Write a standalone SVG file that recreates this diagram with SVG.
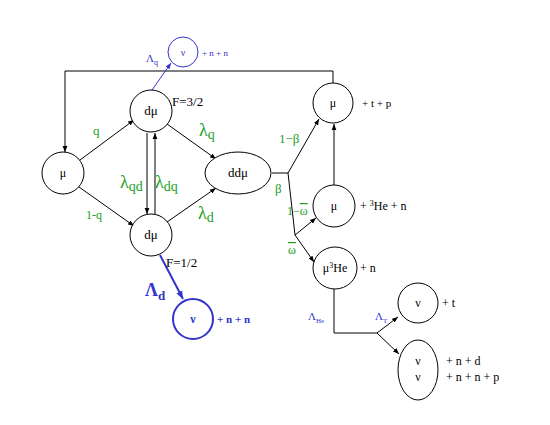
<svg xmlns="http://www.w3.org/2000/svg" width="550" height="425" viewBox="0 0 550 425" font-size="12">
<style>
text{font-family:"Liberation Serif","Times New Roman",serif;fill:#000}
.n{fill:#fff;stroke:#000;stroke-width:1}
.b{fill:#fff;stroke:#3333cc;stroke-width:1}
.bb{fill:#fff;stroke:#3333cc;stroke-width:2}
.c{fill:none;stroke:#000;stroke-width:1}
.cb{fill:none;stroke:#3333cc;stroke-width:1}
.cbb{fill:none;stroke:#3333cc;stroke-width:2}
.g{fill:#1a9e1a}
.bt{fill:#3333cc}
.m{text-anchor:middle}
</style>
<defs>
<marker id="a" viewBox="0 0 10 10" refX="10" refY="5" markerWidth="6" markerHeight="6" orient="auto"><path d="M0,1L10,5L0,9z" fill="#000"/></marker>
<marker id="ab" viewBox="0 0 10 10" refX="10" refY="5" markerWidth="6" markerHeight="6" orient="auto"><path d="M0,1L10,5L0,9z" fill="#3333cc"/></marker>
<marker id="abb" viewBox="0 0 10 10" refX="10" refY="5" markerWidth="4" markerHeight="4" orient="auto"><path d="M0,1L10,5L0,9z" fill="#3333cc"/></marker>
</defs>
<g id="connectors">
<polyline class="c" points="333,83 333,71 65,71 65,152" marker-end="url(#a)"/>
<line class="cb" x1="152" y1="90" x2="171" y2="63" marker-end="url(#ab)"/>
<line class="c" x1="80" y1="160" x2="134" y2="120" marker-end="url(#a)"/>
<line class="c" x1="79" y1="187" x2="134" y2="226" marker-end="url(#a)"/>
<line class="c" x1="147" y1="133" x2="147" y2="214" marker-end="url(#a)"/>
<line class="c" x1="155" y1="214" x2="155" y2="133" marker-end="url(#a)"/>
<line class="c" x1="167" y1="124" x2="216" y2="159" marker-end="url(#a)"/>
<line class="c" x1="167" y1="222" x2="216" y2="188" marker-end="url(#a)"/>
<line class="cbb" x1="160" y1="255" x2="183" y2="299" marker-end="url(#abb)"/>
<polyline class="c" points="272,173 288,173 295,235"/>
<line class="c" x1="288" y1="173" x2="319" y2="119" marker-end="url(#a)"/>
<line class="c" x1="295" y1="235" x2="316" y2="218" marker-end="url(#a)"/>
<line class="c" x1="295" y1="235" x2="314" y2="262" marker-end="url(#a)"/>
<line class="c" x1="334" y1="185" x2="334" y2="124" marker-end="url(#a)"/>
<polyline class="c" points="334,289 334,333 377,333"/>
<line class="c" x1="377" y1="333" x2="398" y2="317" marker-end="url(#a)"/>
<line class="c" x1="377" y1="333" x2="399" y2="354" marker-end="url(#a)"/>
</g>
<g id="labels">
<text class="bt" x="146" y="62" font-size="11">Λ<tspan font-size="8" dy="3">q</tspan></text>
<text class="g" x="93" y="135" font-size="13">q</text>
<text class="g" x="86" y="219" font-size="12">1-q</text>
<text class="g" x="120" y="188" font-size="18">λ<tspan font-size="14" dy="3">qd</tspan></text>
<text class="g" x="155" y="188" font-size="18">λ<tspan font-size="14" dy="3">dq</tspan></text>
<text class="g" x="199" y="136" font-size="18">λ<tspan font-size="14" dy="3">q</tspan></text>
<text class="g" x="198" y="219" font-size="18">λ<tspan font-size="14" dy="3">d</tspan></text>
<text class="bt" x="145" y="296" font-size="18" font-weight="bold">Λ<tspan font-size="13" dy="4">d</tspan></text>
<text class="g" x="279" y="143" font-size="13">1−β</text>
<text class="g" x="275" y="193" font-size="13">β</text>
<text class="g" x="287" y="215">1−<tspan text-decoration="overline">ω</tspan></text>
<text class="g" x="288" y="254" text-decoration="overline">ω</text>
<text class="bt" x="308" y="320" font-size="11">Λ<tspan font-size="7" dy="3">He</tspan></text>
<text class="bt" x="375" y="320" font-size="11">Λ<tspan font-size="7" dy="3">T</tspan></text>
<text x="172" y="106" font-size="13">F=3/2</text>
<text x="166" y="267" font-size="13">F=1/2</text>
</g>
<g id="nu-top">
<circle class="b" cx="183" cy="52" r="15"/>
<text class="bt m" x="183" y="56" font-size="10">ν</text>
<text class="bt" x="202" y="56" font-size="9">+ n + n</text>
</g>
<g id="dmu-top">
<circle class="n" cx="151" cy="111" r="21"/>
<text class="m" x="151" y="115" font-size="13">dμ</text>
</g>
<g id="mu-left">
<circle class="n" cx="63" cy="173" r="21"/>
<text class="m" x="63" y="177">μ</text>
</g>
<g id="dmu-bottom">
<circle class="n" cx="151" cy="235" r="21"/>
<text class="m" x="151" y="239" font-size="13">dμ</text>
</g>
<g id="ddmu">
<ellipse class="n" cx="238" cy="173" rx="33" ry="21"/>
<text class="m" x="238" y="177" font-size="13">ddμ</text>
</g>
<g id="nu-bottom">
<circle class="bb" cx="193" cy="319" r="20"/>
<text class="bt m" x="193" y="323" font-weight="bold">ν</text>
<text class="bt" x="217" y="323" font-weight="bold" font-size="11">+ n + n</text>
</g>
<g id="mu-tp">
<circle class="n" cx="333" cy="103" r="20"/>
<text class="m" x="333" y="107">μ</text>
<text x="362" y="107" font-size="11">+ t + p</text>
</g>
<g id="mu-he">
<circle class="n" cx="334" cy="206" r="21"/>
<text class="m" x="334" y="210">μ</text>
<text x="360" y="210">+ <tspan font-size="8" dy="-4">3</tspan><tspan dy="4">He + n</tspan></text>
</g>
<g id="mu3he">
<ellipse class="n" cx="335" cy="268" rx="22" ry="21"/>
<text class="m" x="335" y="272">μ<tspan font-size="8" dy="-4">3</tspan><tspan dy="4">He</tspan></text>
<text x="360" y="272">+ n</text>
</g>
<g id="nu-t">
<circle class="n" cx="418" cy="303" r="20"/>
<text class="m" x="418" y="307">ν</text>
<text x="442" y="307">+ t</text>
</g>
<g id="nu-nd">
<ellipse class="n" cx="418" cy="370" rx="20" ry="30"/>
<text class="m" x="418" y="365">ν</text>
<text class="m" x="418" y="381">ν</text>
<text x="446" y="365">+ n + d</text>
<text x="446" y="381">+ n + n + p</text>
</g>
</svg>
